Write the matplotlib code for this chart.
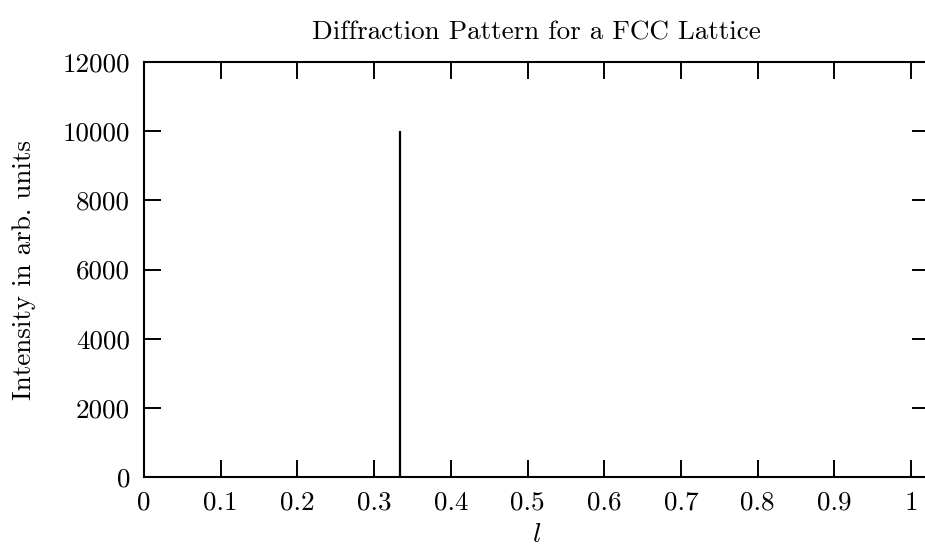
import matplotlib
matplotlib.use("Agg")
import matplotlib.pyplot as plt

# Datos del patrón de difracción
l_pico = [0.3333]
intensidad = [10000]

x_ticks = [0, 0.1, 0.2, 0.3, 0.4, 0.5, 0.6, 0.7, 0.8, 0.9, 1]
x_labels = ["0", "0.1", "0.2", "0.3", "0.4", "0.5", "0.6", "0.7", "0.8", "0.9", "1"]
y_ticks = [0, 2000, 4000, 6000, 8000, 10000, 12000]

plt.rcParams['font.family'] = 'cmr10'
plt.rcParams['mathtext.fontset'] = 'cm'
plt.rcParams['axes.formatter.use_mathtext'] = True

fig = plt.figure(figsize=(9.25, 5.57), dpi=100)
ax = fig.add_axes([144/925, 1 - 477/557, (929 - 144)/925, (477 - 62)/557])

ax.vlines(l_pico, 0, intensidad, color='black', linewidth=1.6)

ax.set_xlim(0, (929 - 144) / 767)
ax.set_ylim(0, 12000)
ax.set_xticks(x_ticks)
ax.set_xticklabels(x_labels)
ax.set_yticks(y_ticks)
ax.set_yticklabels([str(v) for v in y_ticks])

ax.tick_params(direction='in', length=12, width=1.4, labelsize=19.5,
               top=True, right=True, pad=10)
for s in ax.spines.values():
    s.set_linewidth(1.5)

ax.set_title("Diffraction Pattern for a FCC Lattice", fontsize=19.5, pad=16)
ax.set_xlabel("$l$", fontsize=20, labelpad=5)
ax.set_ylabel("Intensity in arb. units", fontsize=19.5, labelpad=19)

fig.savefig("out.png", dpi=100)
